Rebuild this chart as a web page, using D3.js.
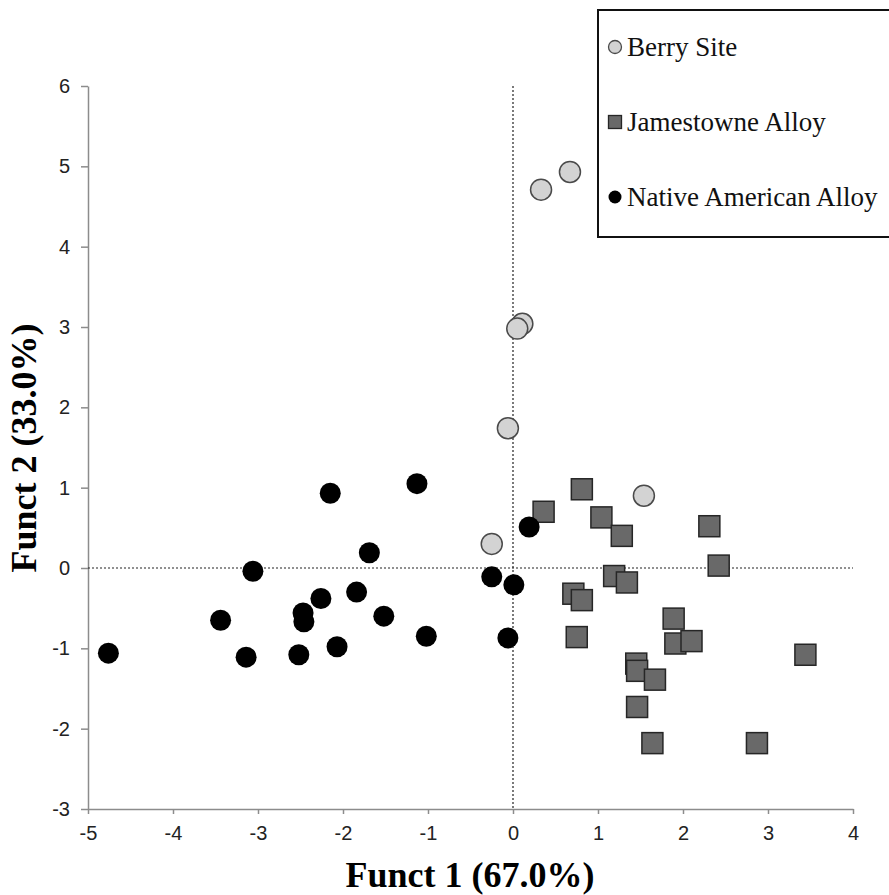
<!DOCTYPE html>
<html>
<head>
<meta charset="utf-8">
<script src="https://cdn.jsdelivr.net/npm/d3@7"></script>
<style>
  body { margin: 0; background: #fff; }
</style>
</head>
<body>
<div id="chart"></div>
<script>
// Data
const berryX = [0.67, 0.33, 0.11, 0.05, -0.06, 1.54, -0.25];
const berryY = [4.93, 4.71, 3.04, 2.98, 1.74, 0.90, 0.30];

const jamesX = [0.81, 0.36, 1.04, 1.28, 2.31, 2.42, 1.19, 1.34, 0.71, 0.81, 0.75,
                1.89, 1.91, 2.10, 3.44, 1.45, 1.46, 1.67, 1.46, 1.64, 2.87];
const jamesY = [0.98, 0.70, 0.63, 0.40, 0.52, 0.03, -0.10, -0.18, -0.32, -0.40, -0.86,
                -0.63, -0.94, -0.91, -1.08, -1.19, -1.28, -1.39, -1.73, -2.18, -2.18];

const nativeX = [0.19, -0.25, 0.01, -0.06, -1.13, -2.15, -1.69, -3.06, -1.84, -2.26,
                 -2.47, -2.46, -1.52, -3.44, -1.02, -2.07, -4.76, -3.14, -2.52];
const nativeY = [0.51, -0.11, -0.21, -0.87, 1.05, 0.93, 0.19, -0.04, -0.30, -0.38,
                 -0.56, -0.67, -0.60, -0.65, -0.85, -0.98, -1.06, -1.11, -1.08];

const xTicks = [-5, -4, -3, -2, -1, 0, 1, 2, 3, 4];
const yTicks = [-3, -2, -1, 0, 1, 2, 3, 4, 5, 6];
const seriesNames = ["Berry Site", "Jamestowne Alloy", "Native American Alloy"];

const width = 889, height = 895;
const margin = { top: 86, right: 36, bottom: 86, left: 88 };

const x = d3.scaleLinear().domain([-5, 4]).range([margin.left, width - margin.right]);
const y = d3.scaleLinear().domain([-3, 6]).range([height - margin.bottom, margin.top]);

const svg = d3.select("#chart").append("svg")
    .attr("width", width)
    .attr("height", height);

// Axes (hyphen minus like the original, not the unicode minus)
const styleAxis = g => {
    g.attr("font-size", 20).attr("font-family", "'Liberation Sans', Arial, sans-serif");
    g.selectAll(".tick line, .domain").attr("stroke", "#8c8c8c").attr("stroke-width", 1.5);
    g.selectAll(".tick text").attr("fill", "#222");
};

svg.append("g")
    .attr("transform", `translate(0,${y(-3)})`)
    .call(d3.axisBottom(x).tickValues(xTicks).tickFormat(d => String(d))
        .tickSize(5).tickSizeOuter(0).tickPadding(12))
    .call(styleAxis);

svg.append("g")
    .attr("transform", `translate(${x(-5)},0)`)
    .call(d3.axisLeft(y).tickValues(yTicks).tickFormat(d => String(d))
        .tickSize(7).tickSizeOuter(0).tickPadding(11))
    .call(styleAxis);

// Dotted zero lines
svg.append("line")
    .attr("x1", x(0)).attr("x2", x(0))
    .attr("y1", y(6)).attr("y2", y(-3))
    .attr("stroke", "#222").attr("stroke-width", 1.2).attr("stroke-dasharray", "2,2");
svg.append("line")
    .attr("x1", x(-5)).attr("x2", x(4))
    .attr("y1", y(0)).attr("y2", y(0))
    .attr("stroke", "#222").attr("stroke-width", 1.2).attr("stroke-dasharray", "2,2");

// Points
const side = 21;
svg.append("g")
    .selectAll("rect")
    .data(d3.range(jamesX.length))
    .join("rect")
    .attr("x", i => x(jamesX[i]) - side / 2)
    .attr("y", i => y(jamesY[i]) - side / 2)
    .attr("width", side).attr("height", side)
    .attr("fill", "#696969").attr("stroke", "#262626").attr("stroke-width", 1.5);

svg.append("g")
    .selectAll("circle")
    .data(d3.range(nativeX.length))
    .join("circle")
    .attr("cx", i => x(nativeX[i]))
    .attr("cy", i => y(nativeY[i]))
    .attr("r", 10.5)
    .attr("fill", "#000");

svg.append("g")
    .selectAll("circle")
    .data(d3.range(berryX.length))
    .join("circle")
    .attr("cx", i => x(berryX[i]))
    .attr("cy", i => y(berryY[i]))
    .attr("r", 10.5)
    .attr("fill", "#d3d3d3").attr("stroke", "#4a4a4a").attr("stroke-width", 1.5);

// Axis titles
svg.append("text")
    .attr("x", 470).attr("y", 887)
    .attr("text-anchor", "middle")
    .style("font-family", "'Liberation Serif', 'Times New Roman', serif")
    .style("font-weight", "bold").style("font-size", "36px")
    .text("Funct 1 (67.0%)");

svg.append("text")
    .attr("transform", "translate(36,448) rotate(-90)")
    .attr("text-anchor", "middle")
    .style("font-family", "'Liberation Serif', 'Times New Roman', serif")
    .style("font-weight", "bold").style("font-size", "36px")
    .text("Funct 2 (33.0%)");

// Legend
const legend = svg.append("g");
legend.append("rect")
    .attr("x", 598).attr("y", 10).attr("width", 300).attr("height", 227)
    .attr("fill", "#fff").attr("stroke", "#111").attr("stroke-width", 2);

const rowY = d3.scalePoint().domain(seriesNames).range([47, 197]);
const rows = legend.selectAll("g.row")
    .data(seriesNames)
    .join("g")
    .attr("transform", d => `translate(615,${rowY(d)})`);

rows.each(function (d, i) {
    const g = d3.select(this);
    if (i === 0) {
        g.append("circle").attr("r", 6.5).attr("fill", "#d3d3d3").attr("stroke", "#4a4a4a").attr("stroke-width", 1.3);
    } else if (i === 1) {
        g.append("rect").attr("x", -6.5).attr("y", -6.5).attr("width", 13).attr("height", 13)
            .attr("fill", "#696969").attr("stroke", "#262626").attr("stroke-width", 1.3);
    } else {
        g.append("circle").attr("r", 6.5).attr("fill", "#000");
    }
    g.append("text")
        .attr("x", 12).attr("dy", "0.35em")
        .style("font-family", "'Liberation Serif', 'Times New Roman', serif")
        .style("font-size", "27px").style("fill", "#111")
        .text(d);
});
</script>
</body>
</html>
